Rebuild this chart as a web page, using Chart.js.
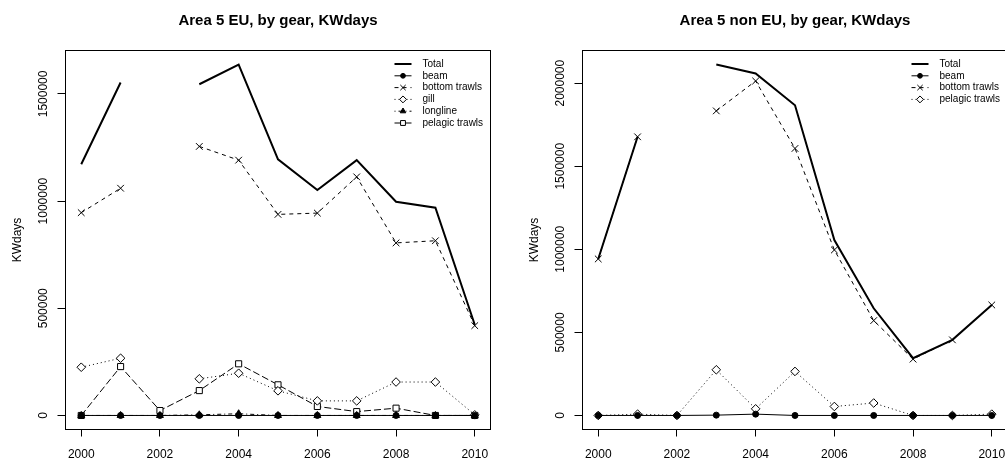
<!DOCTYPE html>
<html lang="en">
  <head>
    <meta charset="UTF-8" />
    <title>Area 5, by gear, KWdays</title>
    <script src="https://cdn.jsdelivr.net/npm/chart.js@4"></script>
    <style>
      html, body { margin: 0; padding: 0; background: #fff; overflow: hidden; }
      body { width: 1005px; height: 462px; position: relative; }
      canvas { position: absolute; top: 0; }
      #eu { left: 0; }
      #noneu { left: 517px; }
    </style>
    <script>
      // values, null = no point that year
      const years = [2000, 2001, 2002, 2003, 2004, 2005, 2006, 2007, 2008, 2009, 2010];
      const yearTicks = [2000, 2002, 2004, 2006, 2008, 2010];

      const euTicks = [0, 500000, 1000000, 1500000];
      const euTotal = [1172000, 1553000, null, 1545000, 1637000, 1195000, 1052000, 1191000, 997000, 969000, 423000];
      const euBeam = [0, 0, 0, 0, 0, 0, 0, 0, 0, 0, 0];
      const euBottom = [946000, 1060000, null, 1255000, 1191000, 938000, 944000, 1113000, 805000, 815000, 419000];
      const euGill = [225000, 267000, null, 171000, 197000, 115000, 68000, 68000, 156000, 156000, 3000];
      const euLongline = [0, 0, 0, 3000, 8000, 0, 0, 0, 0, 0, 0];
      const euPelagic = [0, 228000, 23000, 116000, 241000, 143000, 42000, 18000, 34000, 0, 0];

      const nonTicks = [0, 500000, 1000000, 1500000, 2000000];
      const nonTotal = [942000, 1677000, null, 2112000, 2058000, 1867000, 1056000, 645000, 345000, 455000, 665000];
      const nonBeam = [0, 0, 0, 2000, 8000, 0, 0, 0, 0, 0, 0];
      const nonBottom = [942000, 1677000, null, 1833000, 2013000, 1607000, 996000, 571000, 339000, 455000, 665000];
      const nonPelagic = [0, 8000, 0, 275000, 40000, 265000, 54000, 75000, 0, 0, 8000];

      // line type / symbol by position, like R's lty=1:6, pch
      const looks = [
        { dash: [], width: 2, point: false, r: 0, fill: false },
        { dash: [], width: 1, point: "circle", r: 3, fill: true },
        { dash: [4, 4], width: 1, point: "crossRot", r: 4.7, fill: false },
        { dash: [1, 3], width: 1, point: "rectRot", r: 4.3, fill: false },
        { dash: [1, 3, 4, 3], width: 1, point: "triangle", r: 4, fill: true },
        { dash: [7, 3], width: 1, point: "rect", r: 4.3, fill: false },
      ];

      const FONT = "'Liberation Sans', Arial, Helvetica, sans-serif";

      function series(label, values, i) {
        const lk = looks[i];
        return {
          label: label,
          data: years.map((x, k) => ({ x: x, y: values[k] })),
          borderColor: "#000",
          borderWidth: lk.width,
          borderDash: lk.dash,
          tension: 0,
          spanGaps: false,
          pointStyle: lk.point || "circle",
          pointRadius: lk.point ? lk.r : 0,
          pointBorderWidth: 1,
          pointBorderColor: "#000",
          pointBackgroundColor: lk.fill ? "#000" : "#fff",
          look: lk,
        };
      }

      function marker(ctx, lk, x, y, r) {
        ctx.beginPath();
        if (lk.point == "circle") {
          ctx.arc(x, y, r, 0, Math.PI * 2);
        } else if (lk.point == "triangle") {
          ctx.moveTo(x, y - r);
          ctx.lineTo(x + r * 0.866, y + r * 0.5);
          ctx.lineTo(x - r * 0.866, y + r * 0.5);
          ctx.closePath();
        } else if (lk.point == "rect") {
          const s = r * Math.SQRT1_2;
          ctx.rect(x - s, y - s, 2 * s, 2 * s);
        } else if (lk.point == "rectRot") {
          ctx.moveTo(x, y - r);
          ctx.lineTo(x + r, y);
          ctx.lineTo(x, y + r);
          ctx.lineTo(x - r, y);
          ctx.closePath();
        } else if (lk.point == "crossRot") {
          const s = r * Math.SQRT1_2;
          ctx.moveTo(x - s, y - s);
          ctx.lineTo(x + s, y + s);
          ctx.moveTo(x + s, y - s);
          ctx.lineTo(x - s, y + s);
        }
        ctx.setLineDash([]);
        ctx.lineWidth = 1;
        if (lk.point != "crossRot") {
          ctx.fillStyle = lk.fill ? "#000" : "#fff";
          ctx.fill();
        }
        ctx.stroke();
      }

      // box round the plot, rotated y labels, legend in the top right corner
      const rPlot = {
        id: "rPlot",
        afterDraw(chart) {
          const ctx = chart.ctx;
          const a = chart.chartArea;
          const ys = chart.scales.y;
          ctx.save();
          ctx.strokeStyle = "#000";
          ctx.lineWidth = 1;
          ctx.strokeRect(a.left, a.top, a.right - a.left, a.bottom - a.top);

          ctx.fillStyle = "#000";
          ctx.font = "12px " + FONT;
          ctx.textAlign = "center";
          ctx.textBaseline = "middle";
          ys.ticks.forEach((t) => {
            ctx.save();
            ctx.translate(a.left - 21.5, ys.getPixelForValue(t.value));
            ctx.rotate(-Math.PI / 2);
            ctx.fillText(String(t.value), 0, 0);
            ctx.restore();
          });

          const tx = a.right - 68;
          ctx.font = "10px " + FONT;
          ctx.textAlign = "left";
          chart.data.datasets.forEach((ds, i) => {
            const lk = ds.look;
            const y = a.top + 13.5 + i * 11.8;
            ctx.strokeStyle = "#000";
            ctx.lineWidth = lk.width;
            ctx.setLineDash(lk.dash);
            ctx.beginPath();
            ctx.moveTo(tx - 28, y);
            ctx.lineTo(tx - 11, y);
            ctx.stroke();
            if (lk.point) marker(ctx, lk, tx - 19.5, y, lk.r * 0.8);
            ctx.fillStyle = "#000";
            ctx.fillText(ds.label, tx, y);
          });
          ctx.restore();
        },
      };

      function draw(id, title, datasets, yTicks) {
        let lo = 0, hi = 0;
        datasets.forEach((ds) => ds.data.forEach((p) => {
          if (p.y != null) { lo = Math.min(lo, p.y); hi = Math.max(hi, p.y); }
        }));
        const ypad = (hi - lo) * 0.04;
        const xpad = (years[years.length - 1] - years[0]) * 0.04;

        new Chart(document.getElementById(id), {
          type: "line",
          data: { datasets: datasets },
          plugins: [rPlot],
          options: {
            responsive: false,
            animation: false,
            layout: { padding: { left: 0, top: 0, right: 29.5, bottom: 0 } },
            plugins: {
              legend: { display: false },
              tooltip: { enabled: false },
              title: {
                display: true,
                fullSize: false,
                text: title,
                color: "#000",
                font: { family: FONT, size: 15, weight: "bold" },
                padding: { top: 12, bottom: 20.5 },
              },
            },
            scales: {
              x: {
                type: "linear",
                min: years[0] - xpad,
                max: years[years.length - 1] + xpad,
                afterFit: (s) => { s.height = 32.5; },
                afterBuildTicks: (s) => { s.ticks = yearTicks.map((v) => ({ value: v })); },
                border: { display: false },
                grid: { drawOnChartArea: false, drawTicks: true, tickLength: 7, color: "#000" },
                ticks: {
                  color: "#000",
                  padding: 11,
                  maxRotation: 0,
                  autoSkip: false,
                  font: { family: FONT, size: 12 },
                  callback: (v) => String(v),
                },
              },
              y: {
                min: lo - ypad,
                max: hi + ypad,
                afterFit: (s) => { s.width = 65.5; },
                afterBuildTicks: (s) => { s.ticks = yTicks.map((v) => ({ value: v })); },
                border: { display: false },
                grid: { drawOnChartArea: false, drawTicks: true, tickLength: 8, color: "#000" },
                ticks: { display: false, autoSkip: false },
                title: {
                  display: true,
                  text: "KWdays",
                  color: "#000",
                  font: { family: FONT, size: 12 },
                  padding: { top: 10.5, bottom: 0 },
                },
              },
            },
          },
        });
      }

      window.onload = function () {
        draw("eu", "Area 5 EU, by gear, KWdays", [
          series("Total", euTotal, 0),
          series("beam", euBeam, 1),
          series("bottom trawls", euBottom, 2),
          series("gill", euGill, 3),
          series("longline", euLongline, 4),
          series("pelagic trawls", euPelagic, 5),
        ], euTicks);
        draw("noneu", "Area 5 non EU, by gear, KWdays", [
          series("Total", nonTotal, 0),
          series("beam", nonBeam, 1),
          series("bottom trawls", nonBottom, 2),
          series("pelagic trawls", nonPelagic, 3),
        ], nonTicks);
      };
    </script>
  </head>
  <body>
    <canvas id="eu" width="520" height="462"></canvas>
    <canvas id="noneu" width="520" height="462"></canvas>
  </body>
</html>
